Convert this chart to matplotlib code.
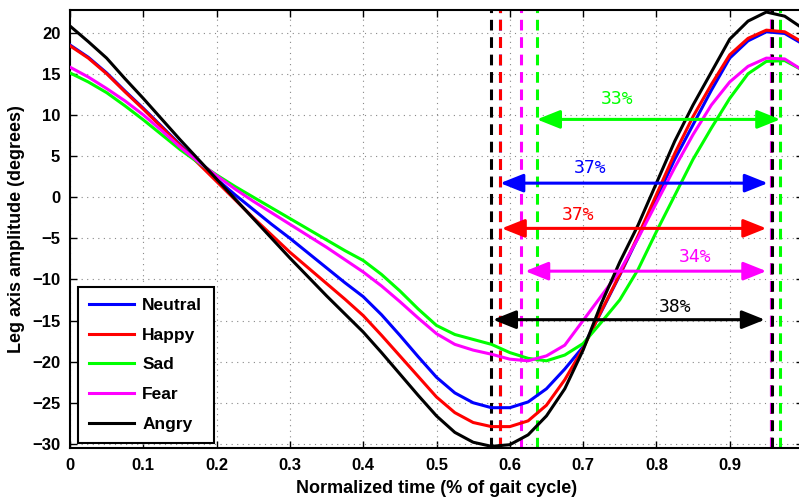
import matplotlib
matplotlib.use("Agg")
import matplotlib.pyplot as plt

# normalized time (fraction of gait cycle)
t = [0, .025, .05, .075, .1, .125, .15, .175, .2, .225, .25, .275, .3, .325, .35,
     .375, .4, .425, .45, .475, .5, .525, .55, .575, .6, .625, .65, .675, .7, .725,
     .75, .775, .8, .825, .85, .875, .9, .925, .95, .975, 1.0]

neutral = [18.5, 17.0, 15.1, 12.9, 10.8, 8.6, 6.4, 4.2, 2.2, 0.3, -1.5, -3.3, -5.0, -6.8,
           -8.6, -10.4, -12.1, -14.3, -16.8, -19.4, -21.9, -23.8, -25.0, -25.6, -25.6,
           -24.9, -23.3, -20.9, -18.2, -13.9, -9.5, -4.9, -0.2, 4.6, 8.8, 13.0, 16.9,
           19.0, 20.1, 19.9, 18.6]
happy = [18.4, 16.9, 15.0, 12.8, 10.7, 8.5, 6.3, 4.1, 1.9, -0.3, -2.5, -4.6, -6.7, -8.6,
         -10.5, -12.4, -14.4, -16.8, -19.3, -21.8, -24.3, -26.2, -27.4, -27.9, -27.9,
         -27.2, -25.3, -22.2, -18.4, -13.8, -9.4, -4.7, 0.3, 5.3, 9.8, 13.7, 17.3,
         19.3, 20.3, 20.1, 18.8]
sad = [15.1, 14.0, 12.7, 11.1, 9.4, 7.6, 5.8, 4.2, 2.7, 1.3, 0.0, -1.3, -2.6, -3.9,
       -5.2, -6.5, -7.7, -9.4, -11.4, -13.6, -15.6, -16.7, -17.3, -17.9, -18.9,
       -19.6, -19.9, -19.2, -17.8, -15.2, -12.5, -8.8, -4.2, 0.2, 4.6, 8.4, 12.0,
       15.0, 16.5, 16.6, 15.4]
fear = [15.8, 14.6, 13.2, 11.7, 10.0, 8.1, 6.1, 4.3, 2.6, 1.0, -0.5, -1.9, -3.3, -4.7,
        -6.1, -7.6, -9.1, -10.8, -12.7, -14.7, -16.6, -17.9, -18.6, -19.1, -19.7,
        -19.9, -19.3, -18.0, -15.0, -12.0, -9.0, -5.0, -0.7, 3.6, 7.6, 11.2, 14.0,
        15.9, 16.9, 16.8, 15.4]
angry = [20.8, 18.9, 16.9, 14.4, 12.0, 9.5, 7.0, 4.6, 2.2, -0.2, -2.6, -5.0, -7.4, -9.7,
         -12.0, -14.2, -16.4, -18.9, -21.5, -24.1, -26.6, -28.6, -29.8, -30.3, -30.1,
         -28.9, -26.6, -23.3, -18.6, -12.9, -7.9, -3.4, 1.7, 6.8, 11.2, 15.2, 19.2,
         21.4, 22.5, 22.0, 20.5]

names = ["Neutral", "Happy", "Sad", "Fear", "Angry"]
colors = ["#0000ff", "#ff0000", "#00ff00", "#ff00ff", "#000000"]
series = [neutral, happy, sad, fear, angry]

# minimum and maximum times of each emotion, and the swing percentages
t_min = [0.586, 0.586, 0.637, 0.615, 0.575]
t_max = [0.957, 0.957, 0.969, 0.957, 0.958]
arrow_y = [1.7, -3.8, 9.45, -9.0, -14.9]
arrow_ends = [(0.587, 0.952), (0.589, 0.950), (0.637, 0.969), (0.621, 0.950), (0.577, 0.948)]
pct_labels = ["37%", "37%", "33%", "34%", "38%"]
label_pos = [(0.71, 3.6), (0.693, -2.2), (0.746, 11.9), (0.853, -7.3), (0.825, -13.4)]

plt.rcParams['font.family'] = ['Liberation Sans', 'DejaVu Sans']

fig = plt.figure(figsize=(7.99, 5.01), dpi=100)
ax = fig.add_axes([70 / 799, 53 / 501, 733 / 799, 438 / 501])

for name, c, y in zip(names, colors, series):
    ax.plot(t, y, color=c, lw=2.2, label=name, zorder=3)

for c, a, b in zip(colors, t_min, t_max):
    for xv in (a, b):
        ax.axvline(xv, color=c, lw=2.2, ls=(0, (3.5, 2.2)), zorder=2)

for c, yv, (a, b), lab, (lx, ly) in zip(colors, arrow_y, arrow_ends, pct_labels, label_pos):
    ax.annotate("", xy=(b, yv), xytext=(a, yv),
                arrowprops=dict(arrowstyle="<|-|>,head_length=0.7,head_width=0.28",
                                color=c, lw=2.2, shrinkA=0, shrinkB=0,
                                mutation_scale=20), zorder=4)
    ax.text(lx, ly, lab, color=c, fontsize=13, family='DejaVu Sans Mono',
            ha='center', va='center', zorder=5)

ax.set_xlim(0, 1.0)
ax.set_ylim(-30.5, 22.75)
ax.set_xticks([0, .1, .2, .3, .4, .5, .6, .7, .8, .9])
ax.set_xticklabels(["0", "0.1", "0.2", "0.3", "0.4", "0.5", "0.6", "0.7", "0.8", "0.9"])
ax.set_yticks(range(-30, 21, 5))
ax.tick_params(direction='in', length=5, width=1, top=True, right=True,
               labelsize=12, pad=7)
for lab in ax.get_xticklabels() + ax.get_yticklabels():
    lab.set_fontweight('bold')
ax.grid(True, color='#888888', ls=(0, (1, 4)), lw=0.8)
for s in ax.spines.values():
    s.set_linewidth(1.5)

ax.set_xlabel("Normalized time (% of gait cycle)", fontsize=13, fontweight='bold', labelpad=5)
ax.set_ylabel("Leg axis amplitude (degrees)", fontsize=13, fontweight='bold', labelpad=5)

leg = ax.legend(loc='lower left', bbox_to_anchor=(0.011, 0.011), borderaxespad=0,
                fancybox=False, framealpha=1, edgecolor='black', handlelength=2.6,
                handletextpad=0.45, labelspacing=0.84, borderpad=0.65,
                prop={'weight': 'bold', 'size': 12.5})
leg.get_frame().set_linewidth(1.5)

fig.savefig("out.png", dpi=100)
